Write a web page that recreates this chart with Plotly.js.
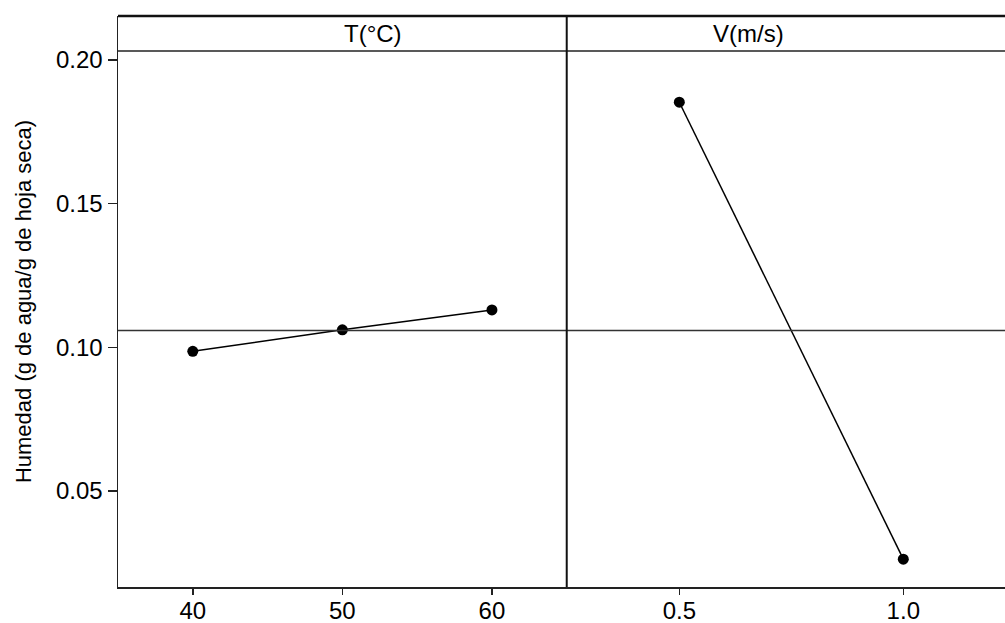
<!DOCTYPE html>
<html>
<head>
<meta charset="utf-8">
<script src="https://cdn.plot.ly/plotly-3.0.1.min.js"></script>
<style>html,body{margin:0;padding:0;background:#fff;}#chart{width:1005px;height:623px;}</style>
</head>
<body>
<div id="chart"></div>
<script>
// Factor levels and mean responses
const tempLevels = [40, 50, 60];
const tempMeans = [0.0986, 0.1061, 0.1130];
const velLevels = [0.5, 1.0];
const velMeans = [0.1853, 0.0263];
const panelTitles = ["T(°C)", "V(m/s)"];
const yTitle = "Humedad (g de agua/g de hoja seca)";
const yTicks = [0.05, 0.10, 0.15, 0.20];

const grandMean = (tempMeans.reduce((a,b)=>a+b,0)/tempMeans.length + velMeans.reduce((a,b)=>a+b,0)/velMeans.length)/2;

const FONT = "Liberation Sans, Arial, sans-serif";
const split = 0.5059;
const yRange = [0.0166, 0.2153];
const stripY = 0.2031;

const lineStyle = {color: "#000", width: 1.5};
const markerStyle = {color: "#000", size: 11};

const traces = [
  {x: tempLevels, y: tempMeans, xaxis: "x", yaxis: "y", mode: "lines+markers", line: lineStyle, marker: markerStyle, hoverinfo: "x+y", showlegend: false},
  {x: velLevels, y: velMeans, xaxis: "x2", yaxis: "y", mode: "lines+markers", line: lineStyle, marker: markerStyle, hoverinfo: "x+y", showlegend: false}
];

const axisCommon = {
  showgrid: false, zeroline: false, showline: true, linecolor: "#222", linewidth: 1.5,
  ticks: "outside", ticklen: 7, tickwidth: 1.5, tickcolor: "#222",
  tickfont: {family: FONT, size: 24, color: "#000"}
};

const layout = {
  width: 1005, height: 623,
  margin: {l: 118, r: 0, t: 16, b: 36},
  paper_bgcolor: "#fff", plot_bgcolor: "#fff",
  showlegend: false,
  xaxis: Object.assign({}, axisCommon, {domain: [0, split], range: [35, 65], tickvals: tempLevels, anchor: "y", ticklen: 6, ticklabelstandoff: -4}),
  xaxis2: Object.assign({}, axisCommon, {domain: [split, 1], range: [0.2487, 1.227], tickvals: velLevels, tickformat: ".1f", anchor: "y", ticklen: 6, ticklabelstandoff: -4}),
  yaxis: Object.assign({}, axisCommon, {range: yRange, tickvals: yTicks, tickformat: ".2f", ticklen: 9,
    title: {text: yTitle, font: {family: FONT, size: 22, color: "#000"}, standoff: 18}}),
  shapes: [
    // grand mean reference line
    {type: "line", xref: "paper", yref: "y", x0: 0, x1: 1, y0: grandMean, y1: grandMean, line: {color: "#333", width: 1.5}},
    // strip bottom line
    {type: "line", xref: "paper", yref: "y", x0: 0, x1: 1, y0: stripY, y1: stripY, line: {color: "#222", width: 1.5}},
    // top border
    {type: "line", xref: "paper", yref: "paper", x0: 0, x1: 1, y0: 1, y1: 1, line: {color: "#111", width: 2.5}},
    // panel divider
    {type: "line", xref: "paper", yref: "paper", x0: split, x1: split, y0: 0, y1: 1, line: {color: "#111", width: 2}}
  ],
  annotations: [
    {xref: "paper", yref: "y", x: split/2, y: (stripY + yRange[1])/2, text: panelTitles[0], showarrow: false, font: {family: FONT, size: 24, color: "#000"}},
    {xref: "paper", yref: "y", x: (split+1)/2, y: (stripY + yRange[1])/2, text: panelTitles[1], showarrow: false, font: {family: FONT, size: 24, color: "#000"}}
  ]
};

Plotly.newPlot("chart", traces, layout, {displayModeBar: false, staticPlot: true});
</script>
</body>
</html>
